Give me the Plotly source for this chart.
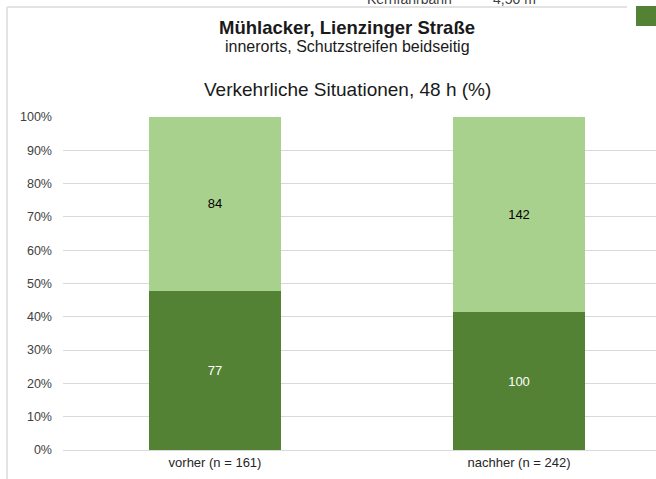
import plotly.graph_objects as go

categories = ["vorher (n = 161)", "nachher (n = 242)"]
dark_counts = [77, 100]
light_counts = [84, 142]
y_ticks = [0, 10, 20, 30, 40, 50, 60, 70, 80, 90, 100]
y_tick_labels = [f"{v}%" for v in y_ticks]

totals = [a + b for a, b in zip(dark_counts, light_counts)]
dark_pct = [a / t * 100 for a, t in zip(dark_counts, totals)]
light_pct = [b / t * 100 for b, t in zip(light_counts, totals)]

DARK = "#548235"
LIGHT = "#A9D18E"
FONT = "Liberation Sans, Arial, sans-serif"

W, H = 656, 479
ML, MR, MT, MB = 63, 0, 117, 29
PW = W - ML - MR
PH = H - MT - MB


def px(x):
    return (x - ML) / PW


def py(y):
    return (H - MB - y) / PH


fig = go.Figure()
fig.add_trace(go.Bar(
    x=categories, y=dark_pct, text=[str(v) for v in dark_counts],
    marker=dict(color=DARK, line=dict(width=0)), width=0.434,
    textposition="inside", insidetextanchor="middle",
    insidetextfont=dict(color="#ffffff", size=13, family=FONT), hoverinfo="skip",
))
fig.add_trace(go.Bar(
    x=categories, y=light_pct, text=[str(v) for v in light_counts],
    marker=dict(color=LIGHT, line=dict(width=0)), width=0.434,
    textposition="inside", insidetextanchor="middle",
    insidetextfont=dict(color="#000000", size=13, family=FONT), hoverinfo="skip",
))

fig.update_layout(
    template="none",
    width=W, height=H, barmode="stack", showlegend=False,
    margin=dict(l=ML, r=MR, t=MT, b=MB, pad=0),
    paper_bgcolor="white", plot_bgcolor="white",
    font=dict(family=FONT, color="#404040", size=13),
    uniformtext=dict(minsize=13, mode="show"),
    xaxis=dict(range=[-0.5, 1.4507], showgrid=False, showline=True,
               linecolor="#d9d9d9", linewidth=1, ticks="", fixedrange=True,
               zeroline=False,
               tickfont=dict(size=13, color="#262626", family=FONT)),
    yaxis=dict(range=[0, 100], tickvals=y_ticks, ticktext=y_tick_labels,
               showgrid=True, gridcolor="#d9d9d9", gridwidth=1, fixedrange=True,
               zeroline=False, showline=False, ticks="", ticklabelstandoff=10,
               tickfont=dict(size=12.5, color="#404040", family=FONT)),
)

annots = [
    dict(text="<b>Mühlacker, Lienzinger Straße</b>", x=px(347), y=py(28), size=18.5, color="#1a1a1a"),
    dict(text="innerorts, Schutzstreifen beidseitig", x=px(347), y=py(46), size=16, color="#1a1a1a"),
    dict(text="Verkehrliche Situationen, 48 h (%)", x=px(347), y=py(90), size=19, color="#1a1a1a"),
    dict(text="Kernfahrbahn", x=px(410), y=py(-1.5), size=14, color="#404040"),
    dict(text="4,50 m", x=px(514), y=py(-1.5), size=14, color="#404040"),
]
for a in annots:
    fig.add_annotation(text=a["text"], xref="paper", yref="paper", x=a["x"], y=a["y"],
                       xanchor="center", yanchor="middle", showarrow=False,
                       font=dict(size=a["size"], color=a["color"], family=FONT))

# frame lines and partial legend square
fig.add_shape(type="line", xref="paper", yref="paper", x0=px(7), x1=px(627), y0=py(7), y1=py(7),
              line=dict(color="#e3e3e3", width=2), layer="above")
fig.add_shape(type="line", xref="paper", yref="paper", x0=px(7), x1=px(7), y0=py(7), y1=py(480),
              line=dict(color="#e3e3e3", width=2), layer="above")
fig.add_shape(type="rect", xref="paper", yref="paper", x0=px(636), x1=px(660), y0=py(6), y1=py(26),
              fillcolor=DARK, line=dict(width=0), layer="above")

fig.write_html("out.html", config={"displayModeBar": False, "staticPlot": True},
               post_script="document.body.style.margin='0';document.body.style.padding='0';")
